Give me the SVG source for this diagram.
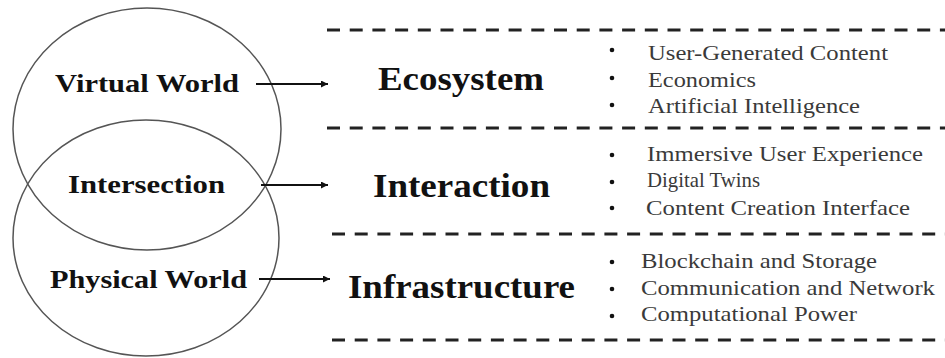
<svg xmlns="http://www.w3.org/2000/svg" width="945" height="358" viewBox="0 0 945 358">
  <defs>
    <marker id="arrow" viewBox="0 0 10 10" refX="10" refY="5" markerWidth="9" markerHeight="7" markerUnits="userSpaceOnUse" orient="auto">
      <path d="M0,0 L10,5 L0,10 z" fill="#111"/>
    </marker>
  </defs>
  <style>
    .ring { fill: none; stroke: #555; stroke-width: 1.5; }
    .world { font-family: "Liberation Serif", "Times New Roman", serif; font-weight: bold; font-size: 26px; fill: #111; }
    .layer { font-family: "Liberation Serif", "Times New Roman", serif; font-weight: bold; font-size: 33px; fill: #111; }
    .item { font-family: "Liberation Serif", "Times New Roman", serif; font-size: 22px; fill: #3a3a3a; }
    .dot { fill: #111; }
    .sep { stroke: #222; stroke-width: 3; stroke-dasharray: 13 9.7; fill: none; }
    .link { stroke: #111; stroke-width: 2; fill: none; marker-end: url(#arrow); }
  </style>

  <rect width="945" height="358" fill="#fff"/>

  <!-- Venn circles -->
  <g id="virtual-world">
    <ellipse class="ring" cx="147" cy="129" rx="134" ry="121"/>
    <text class="world" x="55" y="92" textLength="184" lengthAdjust="spacingAndGlyphs">Virtual World</text>
  </g>
  <g id="physical-world">
    <ellipse class="ring" cx="146" cy="238" rx="133" ry="118"/>
    <text class="world" x="50" y="288" textLength="197" lengthAdjust="spacingAndGlyphs">Physical World</text>
  </g>
  <g id="intersection">
    <text class="world" x="68" y="193" textLength="157" lengthAdjust="spacingAndGlyphs">Intersection</text>
  </g>

  <!-- Dashed layer separators -->
  <g id="separators">
    <line class="sep" x1="327" y1="30" x2="945" y2="30"/>
    <line class="sep" x1="327" y1="128" x2="945" y2="128"/>
    <line class="sep" x1="332" y1="234" x2="945" y2="234"/>
    <line class="sep" x1="332" y1="340" x2="945" y2="340"/>
  </g>

  <!-- Layers -->
  <g id="ecosystem">
    <text class="layer" x="378" y="90" textLength="166" lengthAdjust="spacingAndGlyphs">Ecosystem</text>
    <circle class="dot" cx="612" cy="50" r="2.3"/>
    <circle class="dot" cx="612" cy="78" r="2.3"/>
    <circle class="dot" cx="612" cy="105" r="2.3"/>
    <text class="item" x="648" y="60" textLength="240" lengthAdjust="spacingAndGlyphs">User-Generated Content</text>
    <text class="item" x="648" y="87" textLength="108" lengthAdjust="spacingAndGlyphs">Economics</text>
    <text class="item" x="648" y="113" textLength="212" lengthAdjust="spacingAndGlyphs">Artificial Intelligence</text>
  </g>
  <g id="interaction">
    <text class="layer" x="373" y="197" textLength="177" lengthAdjust="spacingAndGlyphs">Interaction</text>
    <circle class="dot" cx="612" cy="155" r="2.3"/>
    <circle class="dot" cx="612" cy="182" r="2.3"/>
    <circle class="dot" cx="612" cy="208" r="2.3"/>
    <text class="item" x="647" y="161" textLength="276" lengthAdjust="spacingAndGlyphs">Immersive User Experience</text>
    <text class="item" x="647" y="187" textLength="113" lengthAdjust="spacingAndGlyphs">Digital Twins</text>
    <text class="item" x="646" y="215" textLength="264" lengthAdjust="spacingAndGlyphs">Content Creation Interface</text>
  </g>
  <g id="infrastructure">
    <text class="layer" x="348" y="298" textLength="227" lengthAdjust="spacingAndGlyphs">Infrastructure</text>
    <circle class="dot" cx="612" cy="262" r="2.3"/>
    <circle class="dot" cx="612" cy="289" r="2.3"/>
    <circle class="dot" cx="612" cy="316" r="2.3"/>
    <text class="item" x="641" y="268" textLength="236" lengthAdjust="spacingAndGlyphs">Blockchain and Storage</text>
    <text class="item" x="641" y="295" textLength="294" lengthAdjust="spacingAndGlyphs">Communication and Network</text>
    <text class="item" x="641" y="321" textLength="216" lengthAdjust="spacingAndGlyphs">Computational Power</text>
  </g>

  <!-- Connectors -->
  <g id="connectors">
    <line class="link" x1="256" y1="84" x2="328" y2="84"/>
    <line class="link" x1="261" y1="185" x2="328" y2="185"/>
    <line class="link" x1="259" y1="279" x2="330" y2="279"/>
  </g>
</svg>
